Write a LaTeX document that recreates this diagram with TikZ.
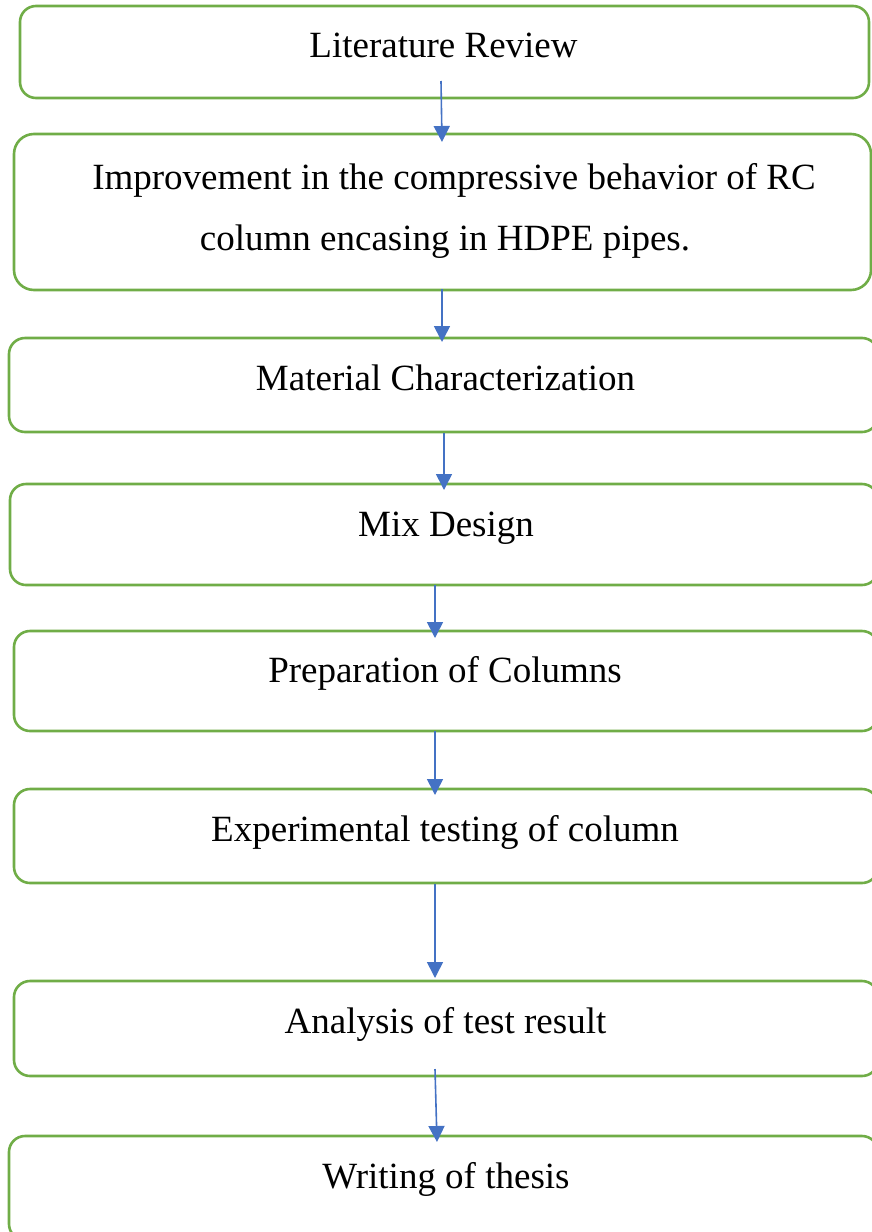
\documentclass[tikz,border=0pt]{standalone}
\usepackage{fontspec}
\setmainfont{Liberation Serif}
\usetikzlibrary{arrows.meta}
\definecolor{boxgreen}{HTML}{70AD47}
\definecolor{arrblue}{HTML}{4472C4}
\begin{document}
\begin{tikzpicture}[x=1pt,y=-1pt,
  box/.style={draw=boxgreen, line width=2.6pt, rounded corners=16pt, inner sep=0pt},
  txt/.style={anchor=base, inner sep=0pt, font=\fontsize{37}{44}\selectfont},
  arr/.style={draw=arrblue, line width=1.6pt, -{Triangle[length=16pt,width=16pt]}, arrblue}]
\useasboundingbox (0,0) rectangle (872,1232);
\node[box, minimum width=849pt, minimum height=92pt] (b1) at (444.5,52) {};
\node[box, minimum width=857pt, minimum height=156pt, rounded corners=20pt] (b2) at (442.5,212) {};
\node[box, minimum width=869pt, minimum height=94pt] (b3) at (443.5,385) {};
\node[box, minimum width=868pt, minimum height=101pt] (b4) at (444,534.5) {};
\node[box, minimum width=864pt, minimum height=100pt] (b5) at (446,681) {};
\node[box, minimum width=864pt, minimum height=94pt] (b6) at (446,836) {};
\node[box, minimum width=864pt, minimum height=95pt] (b7) at (446,1028.5) {};
\node[box, minimum width=869pt, minimum height=104pt] (b8) at (443.5,1188) {};

\node[txt] (t1) at (443.5,57) {Literature Review};
\node[txt] (t2a) at (454,189) {Improvement in the compressive behavior of RC};
\node[txt] (t2b) at (445,250) {column encasing in HDPE pipes.};
\node[txt] (t3) at (445.5,390) {Material Characterization};
\node[txt] (t4) at (446,536) {Mix Design};
\node[txt] (t5) at (445,682) {Preparation of Columns};
\node[txt] (t6) at (445,841) {Experimental testing of column};
\node[txt] (t7) at (445.5,1033) {Analysis of test result};
\node[txt] (t8) at (446,1188) {Writing of thesis};

\coordinate (a1s) at (441,81);   \coordinate (a1e) at (442,142);
\coordinate (a2s) at (442,289);  \coordinate (a2e) at (442,342);
\coordinate (a3s) at (444,433);  \coordinate (a3e) at (444,490);
\coordinate (a4s) at (435,585);  \coordinate (a4e) at (435,638);
\coordinate (a5s) at (435,731);  \coordinate (a5e) at (435,795);
\coordinate (a6s) at (435,884);  \coordinate (a6e) at (435,978);
\coordinate (a7s) at (435,1069); \coordinate (a7e) at (437,1142);
\draw[arr] (a1s) -- (a1e);
\draw[arr] (a2s) -- (a2e);
\draw[arr] (a3s) -- (a3e);
\draw[arr] (a4s) -- (a4e);
\draw[arr] (a5s) -- (a5e);
\draw[arr] (a6s) -- (a6e);
\draw[arr] (a7s) -- (a7e);
\end{tikzpicture}
\end{document}
